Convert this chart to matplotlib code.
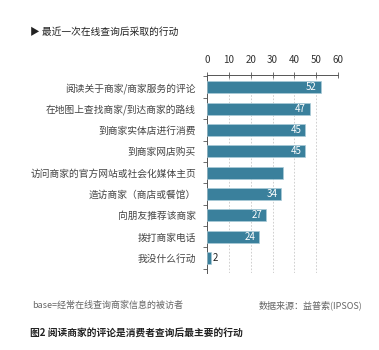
import matplotlib.pyplot as plt
import numpy as np

plt.rcParams['font.family'] = ['Noto Sans CJK SC', 'DejaVu Sans']

# data
actions = ['阅读关于商家/商家服务的评论', '在地图上查找商家/到达商家的路线', '到商家实体店进行消费',
           '到商家网店购买', '访问商家的官方网站或社会化媒体主页', '造访商家（商店或餐馆）',
           '向朋友推荐该商家', '拨打商家电话', '我没什么行动']
shares = [52, 47, 45, 45, 35, 34, 27, 24, 2]
shown = [True, True, True, True, False, True, True, True, True]  # 5th bar has no label
ticks = [0, 10, 20, 30, 40, 50, 60]

W, H = 379, 350
fig = plt.figure(figsize=(W / 100, H / 100), dpi=100)
ax = fig.add_axes([207 / W, 1 - 273 / H, (338 - 207) / W, (273 - 75) / H])

bar_col = '#3a809c'
y = np.arange(len(actions))
ax.barh(y, shares, height=0.56, color=bar_col, edgecolor='#a9cbd8', linewidth=0.5, zorder=3)

for i, (v, s) in enumerate(zip(shares, shown)):
    if not s:
        continue
    if v >= 10:
        ax.text(v - 1.8, i, str(v), color='white', fontsize=7, ha='right', va='center', zorder=4)
    else:
        ax.text(v + 0.8, i, str(v), color='#222222', fontsize=7, ha='left', va='center', zorder=4)

ax.set_xlim(0, 60)
ax.set_ylim(8.7, -0.57)
ax.xaxis.tick_top()
ax.set_xticks(ticks)
ax.set_xticklabels([str(t) for t in ticks], fontsize=7, color='#333333')
ax.tick_params(axis='x', direction='inout', length=4, width=0.6, color='#555555', pad=5)

ax.set_yticks(y)
ax.set_yticklabels(actions, fontsize=7, color='#444444')
ax.set_yticks(np.arange(len(actions) + 1) - 0.5, minor=True)
ax.tick_params(axis='y', which='major', length=0, pad=8)
ax.tick_params(axis='y', which='minor', direction='out', length=3, width=0.6, color='#555555')

ax.grid(axis='x', linestyle=(0, (2, 2)), color='#c8c8c8', linewidth=0.6, zorder=0)
for side in ['right', 'bottom']:
    ax.spines[side].set_visible(False)
for side in ['top', 'left']:
    ax.spines[side].set_color('#555555')
    ax.spines[side].set_linewidth(0.7)

fig.text(30 / W, 1 - 32 / H, '▶ 最近一次在线查询后采取的行动', fontsize=7, color='#222222', va='center')
fig.text(32 / W, 1 - 305 / H, 'base=经常在线查询商家信息的被访者', fontsize=6.5, color='#666666', va='center')
fig.text(362 / W, 1 - 305 / H, '数据来源：益普索(IPSOS)', fontsize=6.5, color='#666666', va='center', ha='right')
fig.text(30 / W, 1 - 333 / H, '图2 阅读商家的评论是消费者查询后最主要的行动', fontsize=7, color='#222222',
         va='center', fontweight='bold')

fig.savefig('out.png', dpi=100)
